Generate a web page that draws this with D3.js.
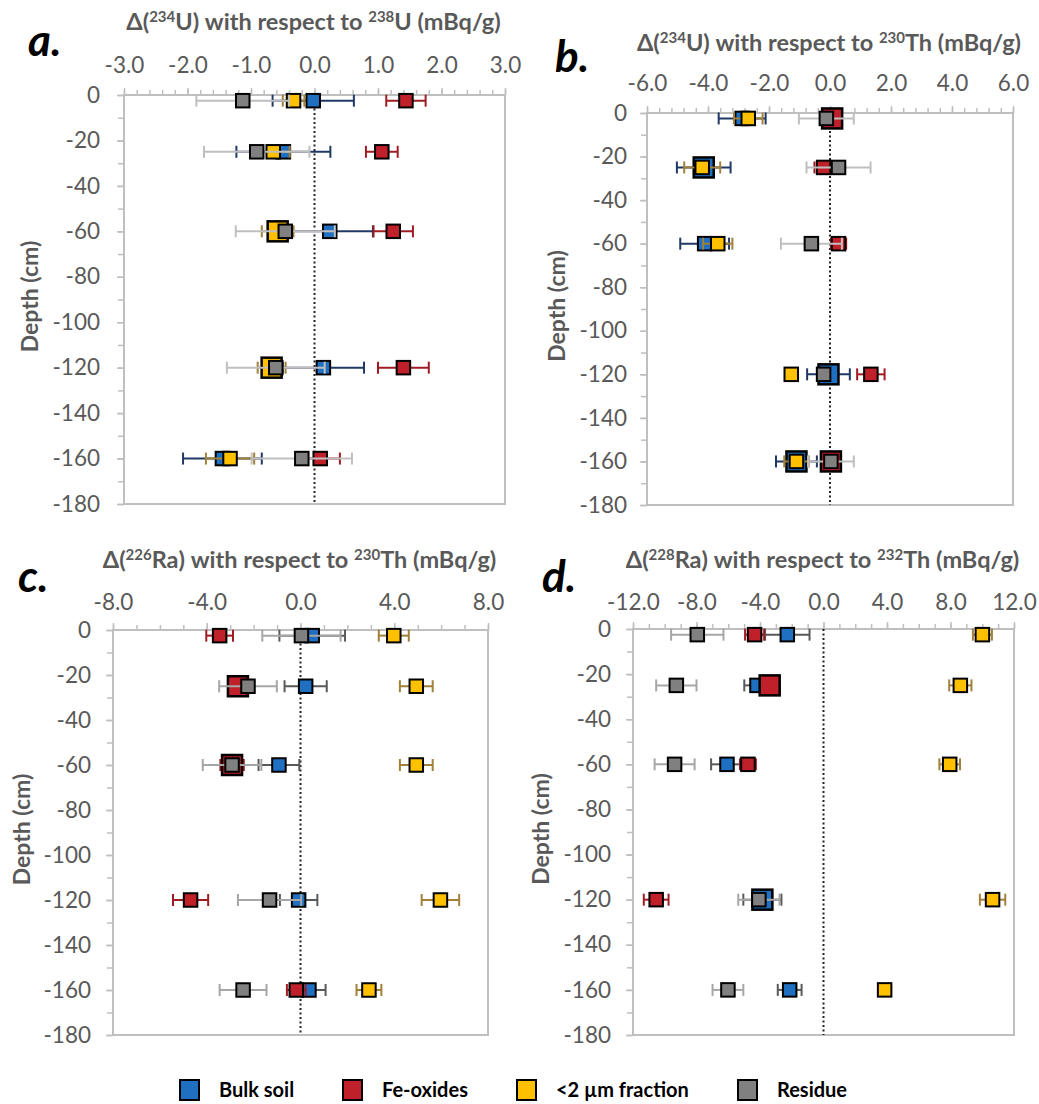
<!DOCTYPE html>
<html><head><meta charset="utf-8">
<script src="https://cdn.jsdelivr.net/npm/d3@7"></script>
<style>
html,body{margin:0;padding:0;background:#fff;}
svg{display:block;}
text{font-family:Lato,"Open Sans",sans-serif;}
</style></head>
<body>
<svg id="chart" width="1039" height="1104"></svg>
<script>
// ---------- DATA ----------
const seriesNames = ["Bulk soil", "Fe-oxides", "<2 µm fraction", "Residue"];
const depths = [-2.5, -25, -60, -120, -160];
const depthTicks = [0, -20, -40, -60, -80, -100, -120, -140, -160, -180];

// Panel a: Δ(234U) with respect to 238U
const aBulk = [-0.02, -0.49, 0.24, 0.14, -1.45];
const aBulkErr = [0.64, 0.74, 0.68, 0.64, 0.62];
const aFe = [1.44, 1.06, 1.24, 1.40, 0.09];
const aFeErr = [0.31, 0.25, 0.31, 0.40, 0.31];
const aClay = [-0.33, -0.65, -0.58, -0.675, -1.33];
const aClayErr = [0.17, 0.26, 0.25, 0.22, 0.38];
const aRes = [-1.13, -0.91, -0.46, -0.61, -0.20];
const aResErr = [0.73, 0.83, 0.78, 0.77, 0.79];
const aTicks = [-3.0, -2.0, -1.0, 0.0, 1.0, 2.0, 3.0];

// Panel b: Δ(234U) with respect to 230Th
const bBulk = [-2.88, -4.14, -4.11, -0.05, -1.10];
const bBulkErr = [0.77, 0.88, 0.80, 0.70, 0.67];
const bFe = [0.07, -0.21, 0.28, 1.34, 0.03];
const bFeErr = [0.25, 0.30, 0.25, 0.45, 0.30];
const bClay = [-2.68, -4.19, -3.68, -1.27, -1.10];
const bClayErr = [0.47, 0.59, 0.48, 0.20, 0.40];
const bRes = [-0.12, 0.28, -0.61, -0.21, 0.03];
const bResErr = [0.90, 1.05, 1.00, 0.20, 0.75];
const bTicks = [-6.0, -4.0, -2.0, 0.0, 2.0, 4.0, 6.0];

// Panel c: Δ(226Ra) with respect to 230Th
const cBulk = [0.50, 0.22, -0.92, -0.08, 0.36];
const cBulkErr = [1.40, 0.90, 0.87, 0.80, 0.71];
const cFe = [-3.45, -2.67, -2.92, -4.69, -0.18];
const cFeErr = [0.57, 0.25, 0.50, 0.75, 0.40];
const cClay = [3.98, 4.94, 4.94, 5.97, 2.92];
const cClayErr = [0.64, 0.70, 0.70, 0.80, 0.53];
const cRes = [0.04, -2.24, -2.92, -1.32, -2.45];
const cResErr = [1.67, 1.23, 1.25, 1.35, 1.00];
const cTicks = [-8.0, -4.0, 0.0, 4.0, 8.0];

// Panel d: Δ(228Ra) with respect to 232Th
const dBulk = [-2.28, -4.19, -6.08, -3.85, -2.13];
const dBulkErr = [1.40, 0.80, 1.00, 1.20, 0.75];
const dFe = [-4.34, -3.39, -4.76, -10.54, null];
const dFeErr = [0.60, 0.40, 0.50, 0.78, null];
const dClay = [10.01, 8.62, 7.95, 10.65, 3.85];
const dClayErr = [0.60, 0.70, 0.65, 0.80, 0.40];
const dRes = [-7.95, -9.27, -9.38, -4.07, -6.02];
const dResErr = [1.65, 1.27, 1.26, 1.30, 0.97];
const dTicks = [-12.0, -8.0, -4.0, 0.0, 4.0, 8.0, 12.0];

// ---------- STYLE / LAYOUT ----------
const fills = ["#1f70c1", "#c0202a", "#ffc000", "#808080"];
const errColors = {
  a: ["#203864", "#a01c24", "#a0803a", "#bfbfbf"],
  b: ["#203864", "#a01c24", "#a0803a", "#bfbfbf"],
  c: ["#595959", "#a01c24", "#a0803a", "#a6a6a6"],
  d: ["#595959", "#a01c24", "#a0803a", "#a6a6a6"]
};
// overlapping points that Excel drew with an enlarged marker: [series, row]
const enlarged = {
  a: [[2, 2], [2, 3]],
  b: [[1, 0], [0, 1], [0, 3], [0, 4], [1, 4]],
  c: [[1, 2], [1, 1]],
  d: [[1, 1], [0, 3]]
};

const panels = [
  {key: "a", label: "a.", series: [[aBulk, aBulkErr], [aFe, aFeErr], [aClay, aClayErr], [aRes, aResErr]],
   ticks: aTicks, minor: 0.2, sup1: "234", el1: "U", sup2: "238", el2: "U",
   L: 124, R: 505, T: 95, B: 504, titleY: 30, tickY: 73, ylabX: 100, ytitleX: 30, labX: 28, labY: 56},
  {key: "b", label: "b.", series: [[bBulk, bBulkErr], [bFe, bFeErr], [bClay, bClayErr], [bRes, bResErr]],
   ticks: bTicks, minor: 0.4, sup1: "234", el1: "U", sup2: "230", el2: "Th",
   L: 647, R: 1013, T: 113, B: 505, titleY: 51, tickY: 91, ylabX: 627, ytitleX: 557, labX: 555, labY: 72},
  {key: "c", label: "c.", series: [[cBulk, cBulkErr], [cFe, cFeErr], [cClay, cClayErr], [cRes, cResErr]],
   ticks: cTicks, minor: 1, sup1: "226", el1: "Ra", sup2: "230", el2: "Th",
   L: 113, R: 488, T: 630, B: 1035, titleY: 568, tickY: 610, ylabX: 91, ytitleX: 22, labX: 18, labY: 592},
  {key: "d", label: "d.", series: [[dBulk, dBulkErr], [dFe, dFeErr], [dClay, dClayErr], [dRes, dResErr]],
   ticks: dTicks, minor: 1, sup1: "228", el1: "Ra", sup2: "232", el2: "Th",
   L: 633, R: 1014, T: 629, B: 1035, titleY: 568, tickY: 610, ylabX: 611, ytitleX: 541, labX: 542, labY: 592}
];

const svg = d3.select("#chart");
const axisGray = "#bfbfbf";
const textGray = "#595959";
const tickFont = 22.5;

panels.forEach(p => {
  const g = svg.append("g");
  const lo = p.ticks[0], hi = p.ticks[p.ticks.length - 1];
  const x = d3.scaleLinear().domain([lo, hi]).range([p.L, p.R]);
  const y = d3.scaleLinear().domain([0, -180]).range([p.T, p.B]);

  // plot border
  g.append("rect").attr("x", p.L).attr("y", p.T).attr("width", p.R - p.L).attr("height", p.B - p.T)
    .attr("fill", "none").attr("stroke", axisGray).attr("stroke-width", 2);

  // minor x ticks
  const minorVals = d3.range(lo, hi + 1e-9, p.minor);
  const xMinor = g.append("g").attr("transform", `translate(0,${p.T})`)
    .call(d3.axisTop(x).tickValues(minorVals).tickSize(5).tickFormat(""));
  // major x ticks + labels
  const xMajor = g.append("g").attr("transform", `translate(0,${p.T})`)
    .call(d3.axisTop(x).tickValues(p.ticks).tickSize(7).tickPadding(p.T - p.tickY - 7).tickFormat(d3.format(".1f")));
  [xMinor, xMajor].forEach(ax => {
    ax.select(".domain").remove();
    ax.selectAll("line").attr("stroke", axisGray).attr("stroke-width", 1.5);
  });
  xMajor.selectAll("text").attr("fill", textGray).attr("font-size", tickFont).attr("font-family", "Lato")
    .text(d => d3.format(".1f")(d).replace("−", "-"));

  // y ticks
  const yMinor = g.append("g").attr("transform", `translate(${p.L},0)`)
    .call(d3.axisLeft(y).tickValues(d3.range(0, -181, -10)).tickSize(6).tickFormat(""));
  const yMajor = g.append("g").attr("transform", `translate(${p.L},0)`)
    .call(d3.axisLeft(y).tickValues(depthTicks).tickSize(7).tickPadding(p.L - p.ylabX - 7));
  [yMinor, yMajor].forEach(ax => {
    ax.select(".domain").remove();
    ax.selectAll("line").attr("stroke", axisGray).attr("stroke-width", 1.5);
  });
  yMajor.selectAll("text").attr("fill", textGray).attr("font-size", tickFont).attr("font-family", "Lato")
    .text(d => String(d).replace("−", "-"));

  // zero line
  g.append("line").attr("x1", x(0)).attr("x2", x(0)).attr("y1", p.T).attr("y2", p.B)
    .attr("stroke", "#222").attr("stroke-width", 2).attr("stroke-dasharray", "2,2.5");

  // title
  const t = g.append("text").attr("x", (p.L + p.R) / 2 - 1).attr("y", p.titleY)
    .attr("text-anchor", "middle").attr("font-weight", "bold").attr("font-size", 23.5).attr("fill", textGray);
  t.append("tspan").text("Δ(");
  t.append("tspan").text(p.sup1).attr("font-size", 15).attr("dy", -8);
  t.append("tspan").text(p.el1 + ") with respect to ").attr("dy", 8);
  t.append("tspan").text(p.sup2).attr("font-size", 15).attr("dy", -8);
  t.append("tspan").text(p.el2 + " (mBq/g)").attr("dy", 8);

  // y title
  g.append("text").attr("transform", `translate(${p.ytitleX + 8},${(p.T + p.B) / 2 - 3}) rotate(-90)`)
    .attr("text-anchor", "middle").attr("font-weight", "bold").attr("font-size", 23).attr("fill", textGray)
    .text("Depth (cm)");

  // panel label
  g.append("text").attr("x", p.labX).attr("y", p.labY).attr("font-weight", "bold").attr("font-style", "italic")
    .attr("font-size", 44).attr("fill", "#000").attr("font-family", "Lato").text(p.label);

  // series
  const big = enlarged[p.key];
  p.series.forEach((s, si) => {
    const vals = s[0], errs = s[1];
    const pts = depths.map((d, i) => ({d, v: vals[i], e: errs[i], i})).filter(o => o.v !== null);
    const sg = g.append("g");
    const ec = errColors[p.key][si];
    pts.forEach(o => {
      const yy = y(o.d), x1 = x(o.v - o.e), x2 = x(o.v + o.e);
      sg.append("line").attr("x1", x1).attr("x2", x2).attr("y1", yy).attr("y2", yy)
        .attr("stroke", ec).attr("stroke-width", 2);
      [x1, x2].forEach(xx => sg.append("line").attr("x1", xx).attr("x2", xx)
        .attr("y1", yy - 6).attr("y2", yy + 6).attr("stroke", ec).attr("stroke-width", 2));
    });
    pts.forEach(o => {
      const isBig = big.some(b => b[0] === si && b[1] === o.i);
      const sz = isBig ? 20 : 13.5;
      sg.append("rect").attr("x", x(o.v) - sz / 2).attr("y", y(o.d) - sz / 2)
        .attr("width", sz).attr("height", sz).attr("fill", fills[si])
        .attr("stroke", "#000").attr("stroke-width", isBig ? 2.5 : 2);
    });
  });
});

// legend
const legendX = [180, 343, 517, 738];
const lg = svg.append("g");
seriesNames.forEach((n, i) => {
  lg.append("rect").attr("x", legendX[i]).attr("y", 1080).attr("width", 19).attr("height", 20)
    .attr("fill", fills[i]).attr("stroke", "#000").attr("stroke-width", 2);
  lg.append("text").attr("x", legendX[i] + 39).attr("y", 1097).attr("font-weight", "bold")
    .attr("font-size", 20).attr("fill", "#000").text(n);
});
</script>
</body></html>
